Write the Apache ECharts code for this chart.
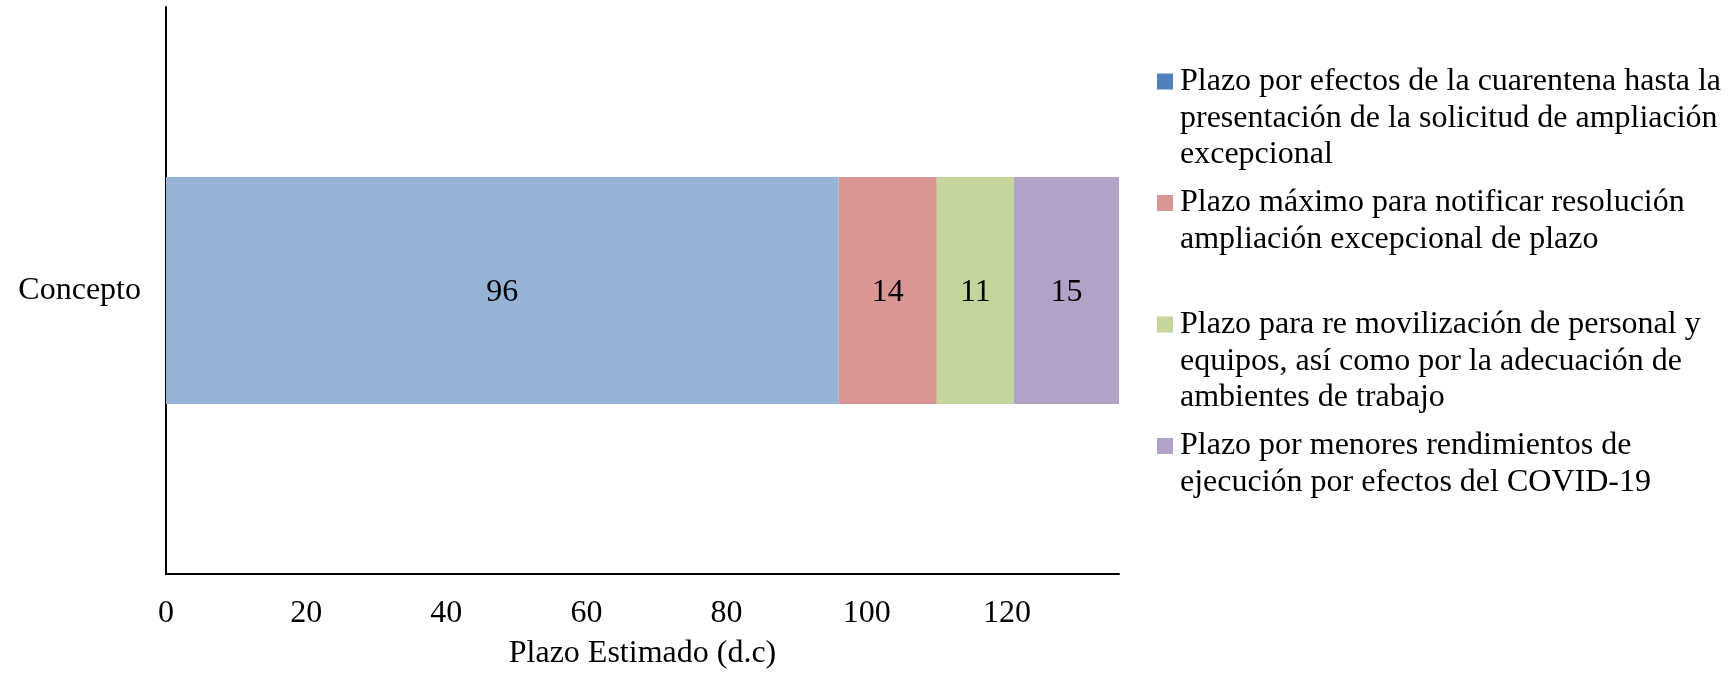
<!DOCTYPE html>
<html>
<head>
<meta charset="utf-8">
<script src="https://cdn.jsdelivr.net/npm/echarts@6/dist/echarts.min.js"></script>
<style>
html,body{margin:0;padding:0;background:#fff;}
#chart{width:1736px;height:675px;}
</style>
</head>
<body>
<div id="chart"></div>
<script>
// ---- data ----
var categories = ['Concepto'];
var seriesNames = [
  'Plazo por efectos de la cuarentena hasta la presentación de la solicitud de ampliación excepcional',
  'Plazo máximo para notificar resolución ampliación excepcional de plazo',
  'Plazo para re movilización de personal y equipos, así como por la adecuación de ambientes de trabajo',
  'Plazo por menores rendimientos de ejecución por efectos del COVID-19'
];
var legendLines = [
  ['Plazo por efectos de la cuarentena hasta la', 'presentación de la solicitud de ampliación', 'excepcional'],
  ['Plazo máximo para notificar resolución', 'ampliación excepcional de plazo'],
  ['Plazo para re movilización de personal y', 'equipos, así como por la adecuación de', 'ambientes de trabajo'],
  ['Plazo por menores rendimientos de', 'ejecución por efectos del COVID-19']
];
var values1 = [96];
var values2 = [14];
var values3 = [11];
var values4 = [15];
var xTicks = [0, 20, 40, 60, 80, 100, 120];
var xMax = 136;
var xAxisName = 'Plazo Estimado (d.c)';

// ---- styles ----
var FONT = "'Liberation Serif', 'Times New Roman', serif";
var barColors = ['#95B3D7', '#D99694', '#C3D69B', '#B3A2C7'];
var legendColors = ['#4F81BD', '#D99694', '#C3D69B', '#B3A2C7'];
var LH = 36.7;
var markerCenters = [81.5, 203, 324.5, 446];

var allValues = [values1, values2, values3, values4];

var series = seriesNames.map(function (name, i) {
  return {
    name: name,
    type: 'bar',
    stack: 'total',
    barWidth: '40%',
    data: allValues[i],
    itemStyle: { color: barColors[i] },
    label: {
      show: true,
      position: 'inside',
      offset: [0, 2.5],
      color: '#000',
      fontSize: 32,
      fontFamily: FONT
    },
    emphasis: { disabled: true }
  };
});

var legends = seriesNames.map(function (name, i) {
  var n = legendLines[i].length;
  var h = 16 + (n - 1) * LH;
  return {
    data: [name],
    left: 1157,
    top: markerCenters[i] - LH / 2,
    padding: 0,
    orient: 'vertical',
    itemWidth: 18,
    itemHeight: h,
    icon: 'path://M0,0L16,0L16,16L0,16Z M18,' + h + 'L17.99,' + h + 'Z',
    itemStyle: { color: legendColors[i], borderWidth: 0 },
    selectedMode: false,
    formatter: function () { return legendLines[i].join('\n'); },
    textStyle: {
      fontSize: 32,
      fontFamily: FONT,
      color: '#000',
      lineHeight: LH
    }
  };
});

var chart = echarts.init(document.getElementById('chart'), null, { renderer: 'canvas' });
chart.setOption({
  animation: false,
  backgroundColor: '#fff',
  grid: { left: 166, top: 7, width: 953, height: 568, containLabel: false },
  legend: legends,
  xAxis: {
    type: 'value',
    min: xTicks[0],
    max: xMax,
    interval: xTicks[1] - xTicks[0],
    name: xAxisName,
    nameLocation: 'middle',
    nameGap: 64,
    nameTextStyle: { fontSize: 32, fontFamily: FONT, color: '#000' },
    axisLine: { show: true, lineStyle: { color: '#000', width: 2 } },
    axisTick: { show: false },
    splitLine: { show: false },
    axisLabel: {
      fontSize: 32, fontFamily: FONT, color: '#000', margin: 24,
      showMaxLabel: false,
      formatter: function (v) { return xTicks.indexOf(v) >= 0 ? String(v) : ''; }
    }
  },
  yAxis: {
    type: 'category',
    data: categories,
    axisLine: { show: true, lineStyle: { color: '#000', width: 2 } },
    axisTick: { show: false },
    axisLabel: { fontSize: 32, fontFamily: FONT, color: '#000', margin: 25, padding: [5, 0, 0, 0] }
  },
  series: series
});
</script>
</body>
</html>
